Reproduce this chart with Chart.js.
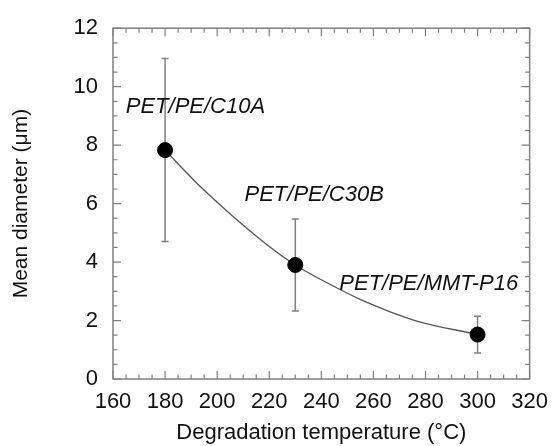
<!DOCTYPE html>
<html>
<head>
<meta charset="utf-8">
<script src="https://cdn.jsdelivr.net/npm/chart.js@4.4.0/dist/chart.umd.min.js"></script>
<style>
  html, body { margin: 0; padding: 0; background: #fff; }
</style>
</head>
<body>
<canvas id="chart" width="558" height="446"></canvas>
<script>
// Dados
const temperaturas = [180, 230, 300];
const diametroMedio = [7.83, 3.9, 1.52];
const erro = [3.13, 1.57, 0.63];
const amostras = ['PET/PE/C10A', 'PET/PE/C30B', 'PET/PE/MMT-P16'];
// curva de ajuste
const curvaX = [180, 193, 219, 230, 242, 256, 276, 300];
const curvaY = [7.83, 6.63, 4.6, 3.9, 3.3, 2.68, 2.0, 1.52];
// posição dos rótulos (unidades do gráfico)
const rotuloX = [164.9, 210.5, 246.9];
const rotuloY = [9.3, 6.3, 3.27];

const fonte = '"Liberation Sans", Arial, Helvetica, sans-serif';
const cinza = '#808080';

const pontos = temperaturas.map((t, i) => ({ x: t, y: diametroMedio[i] }));
const curva = curvaX.map((t, i) => ({ x: t, y: curvaY[i] }));

// Moldura, ticks internos, barras de erro e rótulos
const desenhoExtra = {
    id: 'desenhoExtra',
    beforeDatasetsDraw(chart) {
        const { ctx, scales: { x, y } } = chart;
        ctx.save();
        // barras de erro
        ctx.strokeStyle = cinza;
        ctx.lineWidth = 1.5;
        temperaturas.forEach((t, i) => {
            const px = x.getPixelForValue(t);
            const top = y.getPixelForValue(diametroMedio[i] + erro[i]);
            const bot = y.getPixelForValue(diametroMedio[i] - erro[i]);
            ctx.beginPath();
            ctx.moveTo(px, top); ctx.lineTo(px, bot);
            ctx.moveTo(px - 3.5, top); ctx.lineTo(px + 3.5, top);
            ctx.moveTo(px - 3.5, bot); ctx.lineTo(px + 3.5, bot);
            ctx.stroke();
        });
        ctx.restore();
    },
    afterDraw(chart) {
        const { ctx, chartArea: a, scales: { x, y } } = chart;
        ctx.save();
        ctx.strokeStyle = cinza;
        ctx.lineWidth = 1.5;
        ctx.strokeRect(a.left, a.top, a.right - a.left, a.bottom - a.top);

        ctx.lineWidth = 1.2;
        ctx.beginPath();
        for (let v = x.min; v <= x.max; v += 5) {
            const px = x.getPixelForValue(v);
            const len = v % 20 === 0 ? 8 : 4.5;
            ctx.moveTo(px, a.bottom); ctx.lineTo(px, a.bottom - len);
            ctx.moveTo(px, a.top); ctx.lineTo(px, a.top + len);
        }
        for (let v = y.min; v <= y.max; v += 0.5) {
            const py = y.getPixelForValue(v);
            const len = v % 2 === 0 ? 8 : 4.5;
            ctx.moveTo(a.left, py); ctx.lineTo(a.left + len, py);
            ctx.moveTo(a.right, py); ctx.lineTo(a.right - len, py);
        }
        ctx.stroke();

        // rótulos das amostras
        ctx.fillStyle = '#111';
        ctx.font = 'italic 22px ' + fonte;
        ctx.textAlign = 'left';
        ctx.textBaseline = 'middle';
        amostras.forEach((nome, i) => {
            ctx.fillText(nome, x.getPixelForValue(rotuloX[i]), y.getPixelForValue(rotuloY[i]));
        });
        ctx.restore();
    }
};

new Chart(document.getElementById('chart'), {
    type: 'scatter',
    data: {
        datasets: [
            {
                type: 'line',
                data: curva,
                borderColor: '#555',
                borderWidth: 1.3,
                pointRadius: 0,
                fill: false,
                cubicInterpolationMode: 'monotone',
                order: 2
            },
            {
                data: pontos,
                backgroundColor: '#000',
                borderColor: '#000',
                pointRadius: 7.5,
                pointHoverRadius: 7.5,
                order: 1
            }
        ]
    },
    options: {
        responsive: false,
        animation: false,
        layout: { padding: { left: 0, right: 21, top: 25, bottom: 0 } },
        plugins: {
            legend: { display: false },
            tooltip: { enabled: false }
        },
        scales: {
            x: {
                type: 'linear',
                min: 160,
                max: 320,
                grid: { display: false, drawTicks: false },
                border: { display: false },
                ticks: {
                    stepSize: 20,
                    padding: 10,
                    color: '#111',
                    font: { family: fonte, size: 22 }
                },
                title: {
                    display: true,
                    text: 'Degradation temperature (°C)',
                    color: '#111',
                    font: { family: fonte, size: 22 },
                    padding: { top: 4, bottom: 0 }
                },
                afterFit(scale) { scale.height = 67; }
            },
            y: {
                min: 0,
                max: 12,
                grid: { display: false, drawTicks: false },
                border: { display: false },
                ticks: {
                    stepSize: 2,
                    padding: 15,
                    color: '#111',
                    font: { family: fonte, size: 22 }
                },
                title: {
                    display: true,
                    text: 'Mean diameter (μm)',
                    color: '#111',
                    font: { family: fonte, size: 21 },
                    padding: { top: 9, bottom: 0 }
                },
                afterFit(scale) { scale.width = 113; }
            }
        }
    },
    plugins: [desenhoExtra]
});
</script>
</body>
</html>
